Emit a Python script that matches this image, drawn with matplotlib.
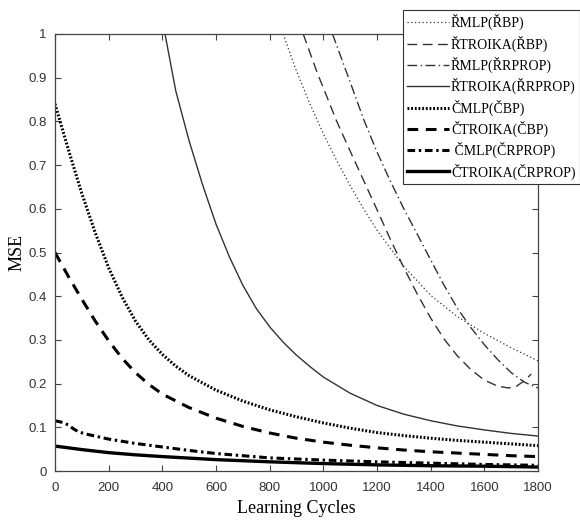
import matplotlib
matplotlib.use("Agg")
import matplotlib.pyplot as plt

# ---- data ----
x_rmlp_rbp = [850, 900, 950, 1000, 1050, 1100, 1150, 1200, 1300, 1400, 1500, 1600, 1700, 1800]
y_rmlp_rbp = [1.0, 0.915, 0.84, 0.772, 0.71, 0.653, 0.6, 0.551, 0.468, 0.402, 0.353, 0.315, 0.282, 0.252]

x_rtroika_rbp = [925, 975, 1050, 1100, 1150, 1200, 1250, 1300, 1350, 1400, 1450, 1500, 1550, 1600, 1650, 1690, 1720, 1750, 1775]
y_rtroika_rbp = [1.0, 0.915, 0.80, 0.732, 0.665, 0.598, 0.53, 0.465, 0.405, 0.35, 0.302, 0.263, 0.232, 0.208, 0.194, 0.19, 0.194, 0.207, 0.222]

x_rmlp_rrprop = [1034, 1100, 1150, 1200, 1250, 1300, 1350, 1400, 1450, 1500, 1550, 1600, 1650, 1700, 1750, 1800]
y_rmlp_rrprop = [1.0, 0.89, 0.805, 0.73, 0.663, 0.60, 0.542, 0.483, 0.425, 0.372, 0.328, 0.289, 0.255, 0.225, 0.203, 0.19]

x_rtroika_rrprop = [410, 450, 500, 550, 600, 650, 700, 750, 800, 850, 900, 950, 1000, 1100, 1200, 1300, 1400, 1500, 1600, 1700, 1800]
y_rtroika_rrprop = [1.0, 0.87, 0.755, 0.655, 0.565, 0.49, 0.425, 0.372, 0.33, 0.295, 0.265, 0.239, 0.215, 0.178, 0.15, 0.13, 0.115, 0.103, 0.094, 0.086, 0.08]

x_cmlp_cbp = [0, 50, 100, 150, 200, 250, 300, 350, 400, 450, 500, 600, 700, 800, 900, 1000, 1100, 1200, 1300, 1400, 1500, 1600, 1700, 1800]
y_cmlp_cbp = [0.84, 0.735, 0.635, 0.545, 0.465, 0.398, 0.343, 0.30, 0.267, 0.24, 0.218, 0.185, 0.16, 0.14, 0.124, 0.11, 0.098, 0.088, 0.081, 0.075, 0.07, 0.066, 0.062, 0.058]

x_ctroika_cbp = [0, 50, 100, 150, 200, 250, 300, 350, 400, 500, 600, 700, 800, 900, 1000, 1100, 1200, 1300, 1400, 1500, 1600, 1700, 1800]
y_ctroika_cbp = [0.5, 0.445, 0.393, 0.343, 0.298, 0.258, 0.225, 0.198, 0.176, 0.145, 0.121, 0.102, 0.087, 0.075, 0.066, 0.059, 0.053, 0.048, 0.044, 0.041, 0.038, 0.035, 0.033]

x_cmlp_crprop = [0, 30, 50, 70, 90, 120, 200, 300, 400, 500, 600, 700, 800, 1000, 1200, 1400, 1600, 1800]
y_cmlp_crprop = [0.115, 0.111, 0.105, 0.096, 0.089, 0.084, 0.073, 0.063, 0.055, 0.047, 0.04, 0.035, 0.03, 0.025, 0.021, 0.018, 0.015, 0.013]

x_ctroika_crprop = [0, 100, 200, 300, 400, 600, 800, 1000, 1200, 1400, 1600, 1800]
y_ctroika_crprop = [0.057, 0.049, 0.042, 0.037, 0.033, 0.026, 0.021, 0.017, 0.014, 0.012, 0.011, 0.009]

labels = ["ŘMLP(ŘBP)", "ŘTROIKA(ŘBP)", "ŘMLP(ŘRPROP)", "ŘTROIKA(ŘRPROP)",
          "ČMLP(ČBP)", "ČTROIKA(ČBP)", " ČMLP(ČRPROP)", "ČTROIKA(ČRPROP)"]
x_ticks = [0, 200, 400, 600, 800, 1000, 1200, 1400, 1600, 1800]
y_ticks = [0, 0.1, 0.2, 0.3, 0.4, 0.5, 0.6, 0.7, 0.8, 0.9, 1]
y_ticklabels = ["0", "0.1", "0.2", "0.3", "0.4", "0.5", "0.6", "0.7", "0.8", "0.9", "1"]

fig = plt.figure(figsize=(5.8, 5.22), dpi=100)
ax = fig.add_axes([55/580, 1-471/522, (538-55)/580, (471-34)/522])

thin = "#333333"
ax.plot(x_rmlp_rbp, y_rmlp_rbp, color=thin, lw=0.9, linestyle=(0, (1, 2)), label=labels[0])
ax.plot(x_rtroika_rbp, y_rtroika_rbp, color=thin, lw=1.0, linestyle=(0, (7, 4)), label=labels[1])
ax.plot(x_rmlp_rrprop, y_rmlp_rrprop, color=thin, lw=1.0, linestyle=(0, (7, 2.5, 1, 2.5)), label=labels[2])
ax.plot(x_rtroika_rrprop, y_rtroika_rrprop, color=thin, lw=1.0, linestyle="-", label=labels[3])
ax.plot(x_cmlp_cbp, y_cmlp_cbp, color="black", lw=2.2, linestyle=(0, (0.6, 0.6)), label=labels[4])
ax.plot(x_ctroika_cbp, y_ctroika_cbp, color="black", lw=2.2, linestyle=(0, (3.5, 2.5)), label=labels[5])
ax.plot(x_cmlp_crprop, y_cmlp_crprop, color="black", lw=2.2, linestyle=(0, (2.5, 1.2, 0.8, 1.2)), label=labels[6])
ax.plot(x_ctroika_crprop, y_ctroika_crprop, color="black", lw=2.4, linestyle="-", label=labels[7])

ax.set_xlim(0, 1800)
ax.set_ylim(0, 1)
ax.set_xticks(x_ticks)
ax.set_yticks(y_ticks)
ax.set_yticklabels(y_ticklabels)
ax.tick_params(direction="in", top=True, right=True, length=4, width=0.8,
               color="#444444", labelcolor="#333333", labelsize=9.5)
ax.tick_params(axis="x", pad=8)
ax.tick_params(axis="y", pad=6)
for lab in ax.get_xticklabels() + ax.get_yticklabels():
    lab.set_fontfamily("Liberation Sans")
for s in ax.spines.values():
    s.set_color("#444444")
    s.set_linewidth(0.9)

ax.set_xlabel("Learning Cycles", fontfamily="Liberation Serif", fontsize=13, labelpad=4)
ax.set_ylabel("MSE", fontfamily="Liberation Serif", fontsize=13, labelpad=2)

leg = ax.legend(loc="upper left", bbox_to_anchor=(403/580, 1-10/522), bbox_transform=fig.transFigure,
                prop={"family": "Liberation Serif", "size": 10}, handlelength=3.0,
                handletextpad=0.15, labelspacing=0.37, borderpad=0.3, fancybox=False,
                framealpha=1, edgecolor="#333333", borderaxespad=0)
leg.get_frame().set_linewidth(0.8)

fig.savefig("out.png", dpi=100)
